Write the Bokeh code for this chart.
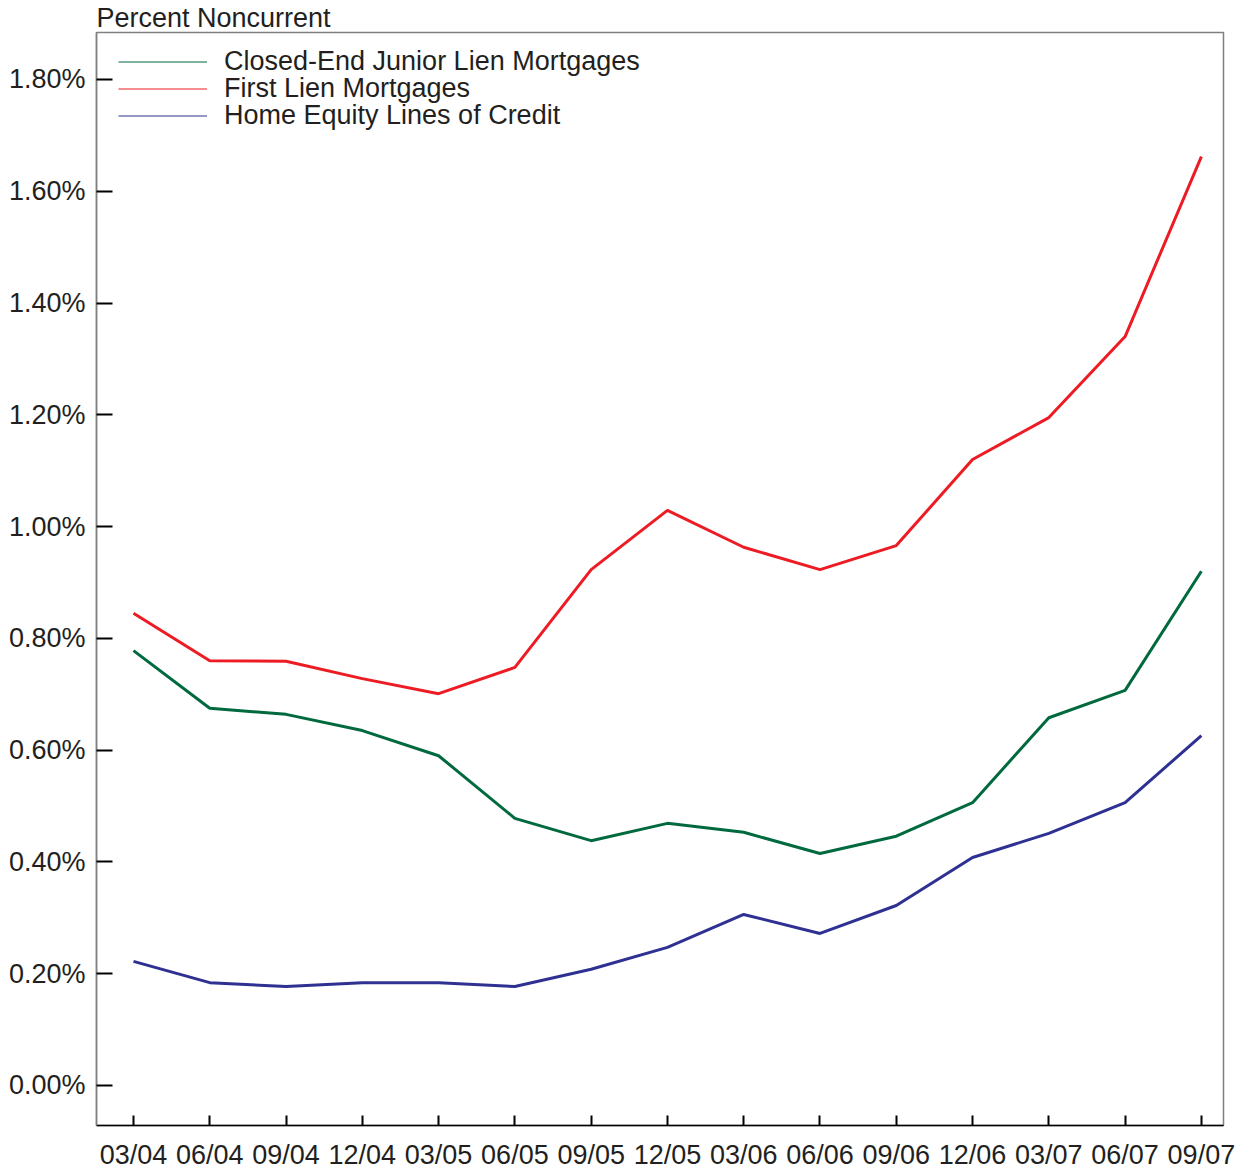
from bokeh.plotting import figure
from bokeh.models import Range1d, FixedTicker, Legend, LegendItem
from bokeh.embed import file_html
from bokeh.resources import INLINE

quarters = ["03/04", "06/04", "09/04", "12/04", "03/05", "06/05", "09/05", "12/05",
            "03/06", "06/06", "09/06", "12/06", "03/07", "06/07", "09/07"]
first_lien = [0.845, 0.760, 0.759, 0.728, 0.701, 0.748, 0.923, 1.029,
              0.963, 0.923, 0.966, 1.120, 1.195, 1.340, 1.662]
closed_end_junior = [0.778, 0.675, 0.664, 0.635, 0.590, 0.478, 0.438, 0.469,
                     0.453, 0.415, 0.446, 0.506, 0.658, 0.707, 0.920]
heloc = [0.222, 0.184, 0.177, 0.184, 0.184, 0.177, 0.208, 0.247,
         0.306, 0.272, 0.322, 0.408, 0.451, 0.506, 0.626]
y_ticks = [0.0, 0.2, 0.4, 0.6, 0.8, 1.0, 1.2, 1.4, 1.6, 1.8]
series_names = ["Closed-End Junior Lien Mortgages", "First Lien Mortgages",
                "Home Equity Lines of Credit"]

GREEN = "#00693E"
RED = "#ED1C24"
BLUE = "#2E3192"
FONT = "Liberation Sans"
TXT = "#231F20"
FS = "27px"

xs = list(range(len(quarters)))

p = figure(width=1243, height=1173, output_backend="svg", toolbar_location=None,
           x_range=Range1d(-0.485, 14.29), y_range=Range1d(-0.0716, 1.884),
           min_border_left=96, min_border_right=20, min_border_top=28, min_border_bottom=48)

p.title.text = "Percent Noncurrent"
p.title.align = "left"
p.title.offset = 0
p.title.standoff = 0
p.title.text_font = FONT
p.title.text_font_size = "27px"
p.title.text_font_style = "normal"
p.title.text_color = TXT
p.title.text_line_height = 0.85

p.xgrid.visible = False
p.ygrid.visible = False
p.background_fill_color = "white"
p.outline_line_color = "#808080"
p.outline_line_width = 1.5

p.line(xs, closed_end_junior, line_color=GREEN, line_width=3)
p.line(xs, first_lien, line_color=RED, line_width=3)
p.line(xs, heloc, line_color=BLUE, line_width=3)

# thin legend swatches, one legend per entry for tight spacing
nan = [float("nan")]
colors = [GREEN, RED, BLUE]
legend_y = [1048, 1021, 994]
for name, col, ly in zip(series_names, colors, legend_y):
    sw = p.line(nan, nan, line_color=col, line_width=1.2)
    lg = Legend(items=[LegendItem(label=name, renderers=[sw])],
                location=(22, ly), margin=0, padding=0, spacing=0,
                glyph_width=89, glyph_height=27, label_height=27, label_standoff=17,
                label_text_font=FONT, label_text_font_size=FS, label_text_color=TXT,
                border_line_color=None, background_fill_alpha=0)
    p.add_layout(lg, "center")

# x axis
p.xaxis.ticker = FixedTicker(ticks=xs)
p.xaxis.major_label_overrides = {i: q for i, q in enumerate(quarters)}
p.xaxis.major_label_text_font = FONT
p.xaxis.major_label_text_font_size = FS
p.xaxis.major_label_text_color = TXT
p.xaxis.major_label_standoff = 14
p.xaxis.major_tick_in = 10
p.xaxis.major_tick_out = 0
p.xaxis.major_tick_line_color = "black"
p.xaxis.major_tick_line_width = 2
p.xaxis.minor_tick_line_color = None
p.xaxis.axis_line_color = "black"
p.xaxis.axis_line_width = 1.5

# y axis
p.yaxis.ticker = FixedTicker(ticks=y_ticks)
p.yaxis.major_label_overrides = {t: f"{t:.2f}%" for t in y_ticks}
p.yaxis.major_label_text_font = FONT
p.yaxis.major_label_text_font_size = FS
p.yaxis.major_label_text_color = TXT
p.yaxis.major_label_standoff = 11
p.yaxis.major_tick_in = 16
p.yaxis.major_tick_out = 0
p.yaxis.major_tick_line_color = "black"
p.yaxis.major_tick_line_width = 2
p.yaxis.minor_tick_line_color = None
p.yaxis.axis_line_color = "#808080"
p.yaxis.axis_line_width = 1.5

open("out.html", "w").write(file_html(p, INLINE))
